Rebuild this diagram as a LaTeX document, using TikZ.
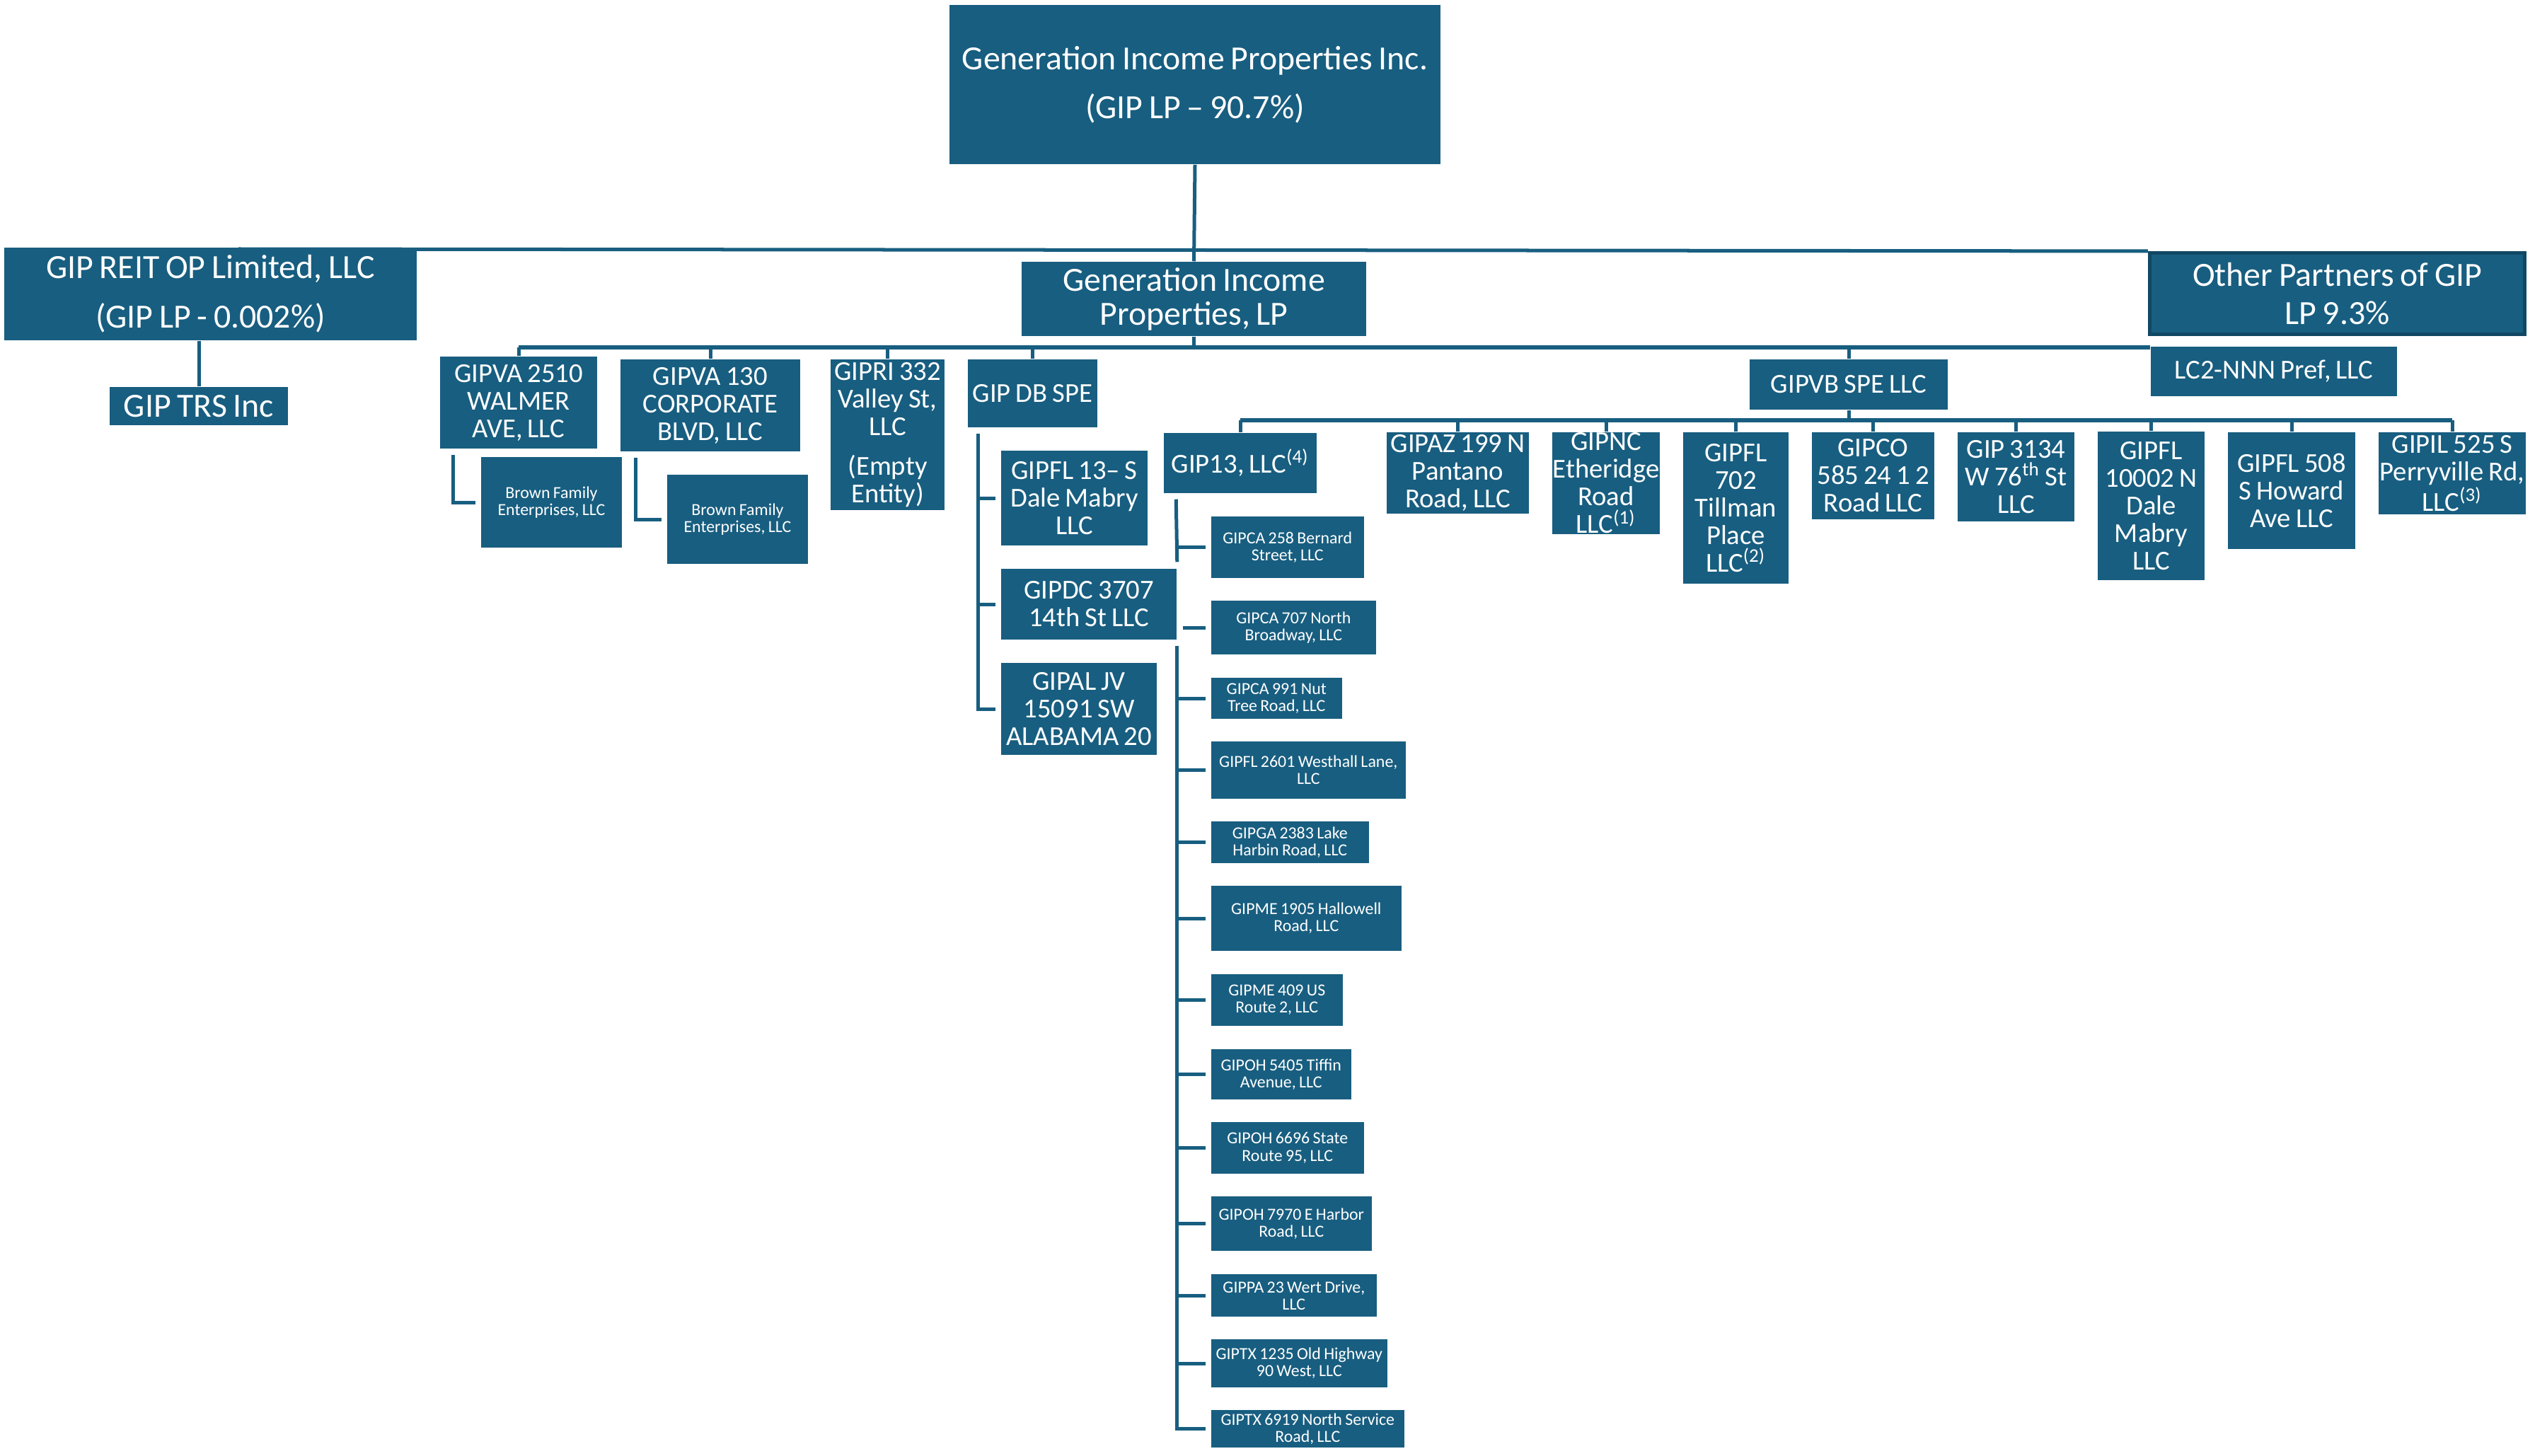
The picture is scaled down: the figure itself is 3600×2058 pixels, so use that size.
\documentclass[tikz,border=0pt]{standalone}
\usepackage{fontspec}
\setmainfont{Carlito}[WordSpace=0.8]
\definecolor{gipblue}{RGB}{24,94,128}
\definecolor{gipdark}{RGB}{17,72,100}
\tikzset{
  ent/.style={fill=gipblue, text=white, inner sep=0pt, align=center},
  lbox/.style={ent, font=\fontsize{13.6}{#1}\selectfont},
  lbox/.default=16,
  mbox/.style={ent, font=\fontsize{11}{11.1}\selectfont},
  sbox/.style={ent, font=\fontsize{6.8}{6.9}\selectfont},
  link/.style={draw=gipblue, line width=0.05cm},
  tick/.style={link, shorten >=0.07cm},
}

\begin{document}
\begin{tikzpicture}[x=0.01cm, y=-0.01cm]
		\useasboundingbox (0,0) rectangle (3600,2058);
		% owners
		\node[lbox=19.6, minimum width=6.94cm, minimum height=2.25cm] (top) at (1689,119.5) {Generation Income Properties Inc.\\(GIP LP – 90.7\%)};
		\node[lbox=19.9, minimum width=5.83cm, minimum height=1.31cm] (reit) at (297.5,415.5) {GIP REIT OP Limited, LLC\\(GIP LP - 0.002\%)};
		\node[lbox=13.7, minimum width=4.87cm, minimum height=1.05cm] (lp) at (1687.5,422.5) {Generation Income\\Properties, LP};
		\node[lbox=15.4, minimum width=5.30cm, minimum height=1.15cm, draw=gipdark, line width=0.05cm] (others) at (3303.5,415) {Other Partners of GIP\\LP 9.3\%};
		\node[lbox, minimum width=2.52cm, minimum height=0.54cm] (trs) at (281,574) {GIP TRS Inc};
		% first level
		\node[mbox, minimum width=2.22cm, minimum height=1.30cm] (va1) at (733,569) {GIPVA 2510\\WALMER\\AVE, LLC};
		\node[mbox, minimum width=2.54cm, minimum height=1.30cm] (va2) at (1004,573) {GIPVA 130\\CORPORATE\\BLVD, LLC};
		\node[mbox, minimum width=1.61cm, minimum height=2.13cm] (ri) at (1254.5,614.5) {GIPRI 332\\Valley St,\\LLC\\[0.17cm](Empty\\Entity)};
		\node[mbox, minimum width=1.83cm, minimum height=0.96cm] (db) at (1459.5,556) {GIP DB SPE};
		\node[mbox, minimum width=2.80cm, minimum height=0.71cm] (vb) at (2613,543.5) {GIPVB SPE LLC};
		\node[mbox, minimum width=3.48cm, minimum height=0.70cm] (lc) at (3214,525) {LC2-NNN Pref, LLC};
		% brown family
		\node[sbox, minimum width=1.99cm, minimum height=1.28cm] (bf1) at (779.5,710) {Brown Family\\Enterprises, LLC};
		\node[sbox, minimum width=1.99cm, minimum height=1.26cm] (bf2) at (1042.5,734) {Brown Family\\Enterprises, LLC};
		% db spe
		\node[mbox, minimum width=2.07cm, minimum height=1.34cm] (fl13) at (1518.5,704) {GIPFL 13– S\\Dale Mabry\\LLC};
		\node[mbox, minimum width=2.48cm, minimum height=1.00cm] (dc) at (1539,854) {GIPDC 3707\\14th St LLC};
		\node[mbox, minimum width=2.20cm, minimum height=1.30cm] (al) at (1525,1002) {GIPAL JV\\15091 SW\\ALABAMA 20};
		% gipvb spe
		\node[mbox, minimum width=2.16cm, minimum height=0.85cm] (g13) at (1753,654.5) {GIP13, LLC\textsuperscript{(4)}};
		\node[mbox, minimum width=2.01cm, minimum height=1.15cm] (az) at (2060.5,668.5) {GIPAZ 199 N\\Pantano\\Road, LLC};
		\node[mbox, minimum width=1.52cm, minimum height=1.44cm] (nc) at (2270,683) {GIPNC\\Etheridge\\Road\\LLC\textsuperscript{(1)}};
		\node[mbox, minimum width=1.49cm, minimum height=2.14cm] (fl702) at (2453.5,718) {GIPFL\\702\\Tillman\\Place\\LLC\textsuperscript{(2)}};
		\node[mbox, minimum width=1.73cm, minimum height=1.23cm] (co) at (2647.5,672.5) {GIPCO\\585 24 1 2\\Road LLC};
		\node[mbox, minimum width=1.65cm, minimum height=1.26cm] (w76) at (2849.5,674) {GIP 3134\\W 76\textsuperscript{th} St\\LLC};
		\node[mbox, minimum width=1.51cm, minimum height=2.10cm] (fl10) at (3040.5,715) {GIPFL\\10002 N\\Dale\\Mabry\\LLC};
		\node[mbox, minimum width=1.80cm, minimum height=1.65cm] (fl508) at (3239,693.5) {GIPFL 508\\S Howard\\Ave LLC};
		\node[mbox, minimum width=2.08cm, minimum height=1.16cm] (il) at (3466,669) {GIPIL 525 S\\Perryville Rd,\\LLC\textsuperscript{(3)}};
		% gip13
		\node[sbox, anchor=west, minimum width=2.16cm, minimum height=0.87cm] (ca1) at (1711,773.5) {GIPCA 258 Bernard\\Street, LLC};
		\node[sbox, anchor=west, minimum width=2.33cm, minimum height=0.76cm] (ca2) at (1711,887) {GIPCA 707 North\\Broadway, LLC};
		\node[sbox, anchor=west, minimum width=1.85cm, minimum height=0.58cm] (ca3) at (1711,987) {GIPCA 991 Nut\\Tree Road, LLC};
		\node[sbox, anchor=west, minimum width=2.75cm, minimum height=0.81cm] (wh) at (1711,1088.5) {GIPFL 2601 Westhall Lane,\\LLC};
		\node[sbox, anchor=west, minimum width=2.23cm, minimum height=0.59cm] (ga) at (1711,1190.5) {GIPGA 2383 Lake\\Harbin Road, LLC};
		\node[sbox, anchor=west, minimum width=2.69cm, minimum height=0.92cm] (me1) at (1711,1298) {GIPME 1905 Hallowell\\Road, LLC};
		\node[sbox, anchor=west, minimum width=1.86cm, minimum height=0.73cm] (me2) at (1711,1413.5) {GIPME 409 US\\Route 2, LLC};
		\node[sbox, anchor=west, minimum width=1.98cm, minimum height=0.71cm] (oh1) at (1711,1518.5) {GIPOH 5405 Tiffin\\Avenue, LLC};
		\node[sbox, anchor=west, minimum width=2.16cm, minimum height=0.73cm] (oh2) at (1711,1622.5) {GIPOH 6696 State\\Route 95, LLC};
		\node[sbox, anchor=west, minimum width=2.27cm, minimum height=0.77cm] (oh3) at (1711,1729.5) {GIPOH 7970 E Harbor\\Road, LLC};
		\node[sbox, anchor=west, minimum width=2.34cm, minimum height=0.60cm] (pa) at (1711,1831) {GIPPA 23 Wert Drive,\\LLC};
		\node[sbox, anchor=west, minimum width=2.49cm, minimum height=0.68cm] (tx1) at (1711,1927) {GIPTX 1235 Old Highway\\90 West, LLC};
		\node[sbox, anchor=west, minimum width=2.73cm, minimum height=0.53cm] (tx2) at (1711,2019.5) {GIPTX 6919 North Service\\Road, LLC};
		% main line
		\coordinate (mainL) at (337,352);
		\draw[link] (mainL) -- (others.north west);
		\draw[link] (top.south) -- (lp.north);
		\draw[link] (trs.north) -- (trs.north |- reit.south);
		% lp bus
		\coordinate (lpbus) at (0,491);
		\draw[link] (lp.south) -- (lp.south |- lpbus);
		\draw[link] (va1.north |- lpbus) -- (lc.north west |- lpbus);
		\draw[link] (va1.north |- lpbus) -- (va1.north);
		\draw[link] (va2.north |- lpbus) -- (va2.north);
		\draw[link] (ri.north |- lpbus) -- (ri.north);
		\draw[link] (db.north |- lpbus) -- (db.north);
		\draw[link] (vb.north |- lpbus) -- (vb.north);
		% gipvb bus
		\coordinate (vbbus) at (0,594);
		\draw[link] (vb.south) -- (vb.south |- vbbus);
		\draw[link] (g13.north |- vbbus) -- (il.north |- vbbus);
		\draw[link] (g13.north |- vbbus) -- (g13.north);
		\draw[link] (az.north |- vbbus) -- (az.north);
		\draw[link] (nc.north |- vbbus) -- (nc.north);
		\draw[link] (fl702.north |- vbbus) -- (fl702.north);
		\draw[link] (co.north |- vbbus) -- (co.north);
		\draw[link] (w76.north |- vbbus) -- (w76.north);
		\draw[link] (fl10.north |- vbbus) -- (fl10.north);
		\draw[link] (fl508.north |- vbbus) -- (fl508.north);
		\draw[link] (il.north |- vbbus) -- (il.north);
		% brackets
		\draw[tick] ([xshift=0.19cm,yshift=-0.08cm]va1.south west) |- (bf1.west);
		\draw[tick] ([xshift=0.22cm,yshift=-0.08cm]va2.south west) |- (bf2.west);
		\coordinate (dbv) at ([xshift=0.15cm,yshift=-0.08cm]db.south west);
		\draw[tick] (dbv) |- (al.west);
		\draw[tick] (dbv |- fl13.west) -- (fl13.west);
		\draw[tick] (dbv |- dc.west) -- (dc.west);
		\coordinate (g13v) at ([xshift=0.18cm,yshift=-0.08cm]g13.south west);
		\draw[link] (g13v) -- ([yshift=0.09cm]dc.north east);
		\draw[tick] ([yshift=-0.08cm]dc.south east) |- (tx2.west);
		\draw[tick] (g13v |- ca1.west) -- (ca1.west);
		\draw[tick] ([xshift=0.08cm]dc.east |- ca2.west) -- (ca2.west);
		\draw[tick] (g13v |- ca3.west) -- (ca3.west);
		\draw[tick] (g13v |- wh.west) -- (wh.west);
		\draw[tick] (g13v |- ga.west) -- (ga.west);
		\draw[tick] (g13v |- me1.west) -- (me1.west);
		\draw[tick] (g13v |- me2.west) -- (me2.west);
		\draw[tick] (g13v |- oh1.west) -- (oh1.west);
		\draw[tick] (g13v |- oh2.west) -- (oh2.west);
		\draw[tick] (g13v |- oh3.west) -- (oh3.west);
		\draw[tick] (g13v |- pa.west) -- (pa.west);
		\draw[tick] (g13v |- tx1.west) -- (tx1.west);
	\end{tikzpicture}
\end{document}
